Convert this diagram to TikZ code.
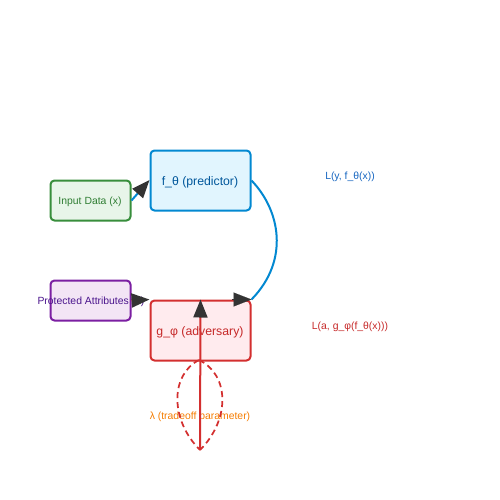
\documentclass[tikz,border=0pt]{standalone}
\usepackage{fontspec}
\setmainfont{Liberation Sans}
\usetikzlibrary{arrows.meta}
\definecolor{ingreen}{HTML}{388E3C}
\definecolor{ingreentxt}{HTML}{2E7D32}
\definecolor{infill}{HTML}{E8F5E9}
\definecolor{fblue}{HTML}{0288D1}
\definecolor{fbluetxt}{HTML}{01579B}
\definecolor{ffill}{HTML}{E1F5FE}
\definecolor{ppurple}{HTML}{7B1FA2}
\definecolor{ppurpletxt}{HTML}{4A148C}
\definecolor{pfill}{HTML}{F3E5F5}
\definecolor{gred}{HTML}{D32F2F}
\definecolor{gredtxt}{HTML}{C62828}
\definecolor{gfill}{HTML}{FFEBEE}
\definecolor{lamorange}{HTML}{F57C00}
\definecolor{lblue}{HTML}{1565C0}
\definecolor{headgray}{HTML}{333333}
\begin{document}
\begin{tikzpicture}[x=0.75pt,y=-0.75pt,
  box/.style={draw,rounded corners=3pt,line width=1.5pt,inner sep=0pt,anchor=north west},
  small/.style={font=\fontsize{7.8pt}{9pt}\selectfont},
  big/.style={font=\fontsize{9.2pt}{11pt}\selectfont},
  bigtip/.style={-{Triangle[length=13.5pt,width=10.5pt]},arrows={[fill=headgray,color=headgray]}},
  conn/.style={line width=1.5pt}
]
\useasboundingbox (0,0) rectangle (500,500);
% boxes
\node[box,draw=ingreen,fill=infill,minimum width=60pt,minimum height=30pt] (inp) at (49.5,179.5) {};
\node[small,text=ingreentxt] (inptxt) at (90,202) {Input Data (x)};
\node[box,draw=fblue,fill=ffill,minimum width=75pt,minimum height=45pt] (fth) at (149.5,149.5) {};
\node[big,text=fbluetxt] (ftxt) at (200,182.5) {f\_θ (predictor)};
\node[box,draw=ppurple,fill=pfill,minimum width=60pt,minimum height=30pt] (prot) at (49.5,279.5) {};
\node[box,draw=gred,fill=gfill,minimum width=75pt,minimum height=45pt] (gphi) at (149.5,299.5) {};
\node[big,text=gredtxt] (gtxt) at (200,332.5) {g\_φ (adversary)};
\node[small,text=ppurpletxt] (prottxt) at (91,302) {Protected Attributes (a)};
% labels
\node[small,text=lamorange] (lam) at (200,417) {λ (tradeoff parameter)};
\node[small,text=lblue] (ly) at (350,177) {L(y, f\_θ(x))};
\node[small,text=gredtxt] (la) at (350,327) {L(a, g\_φ(f\_θ(x)))};
% coordinates
\coordinate (lbot) at (200,450);
\coordinate (ltop) at (199,360);
\coordinate (gin) at (232,299.5);
% connectors
\draw[conn,fblue,bigtip] (inp.east) -- (fth.west |- 0,180);
\draw[conn,gred,bigtip] (prot.east) -- (gphi.north west);
\draw[conn,fblue] (fth.east) .. controls (280,210) and (290,260) .. (gphi.north east);
\draw[bigtip,line width=0.1pt,headgray] (gin) -- (gphi.north east);
\draw[conn,gred,bigtip] (lbot) -- (gphi.north);
\draw[gred,line width=1.3pt,dash pattern=on 4.5pt off 3pt] (ltop) .. controls (170,375) and (170,420) .. (lbot);
\draw[gred,line width=1.3pt,dash pattern=on 4.5pt off 3pt] (ltop) .. controls (230,375) and (230,420) .. (lbot);
\end{tikzpicture}
\end{document}
